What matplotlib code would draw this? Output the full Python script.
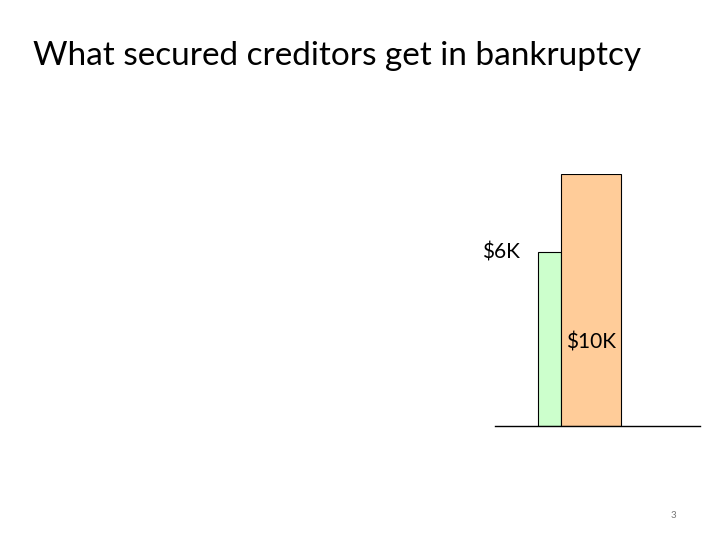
import matplotlib.pyplot as plt

title = "What secured creditors get in bankruptcy"
bar_labels = ["$6K", "$10K"]
# drawn heights as they appear on the slide (not strictly to scale)
bar_heights = [6.9, 10.0]
bar_colors = ["#ccffcc", "#ffcc99"]

fig = plt.figure(figsize=(7.2, 5.4), dpi=100)
fig.patch.set_facecolor("white")

ax = fig.add_axes([495 / 720, 1 - 426 / 540, 205 / 720, 252 / 540])
ax.set_xlim(0, 205)
ax.set_ylim(0, 10)
ax.axis("off")

lefts = [43, 66]
widths = [23, 60]
ax.bar(lefts, bar_heights, widths, align="edge", color=bar_colors,
       edgecolor="black", linewidth=0.8)
ax.plot([0, 205], [0, 0], color="black", lw=1, clip_on=False)

font = "Lato"
ax.text(lefts[0] - 18, bar_heights[0], bar_labels[0], ha="right", va="center",
        fontsize=15, family=font, clip_on=False)
ax.text(lefts[1] + widths[1] / 2, bar_heights[1] * 0.33, bar_labels[1],
        ha="center", va="center", fontsize=15, family=font)

fig.text(33 / 720, 1 - 56 / 540, title, ha="left", va="center",
         fontsize=24, family=font)
fig.text(673 / 720, 1 - 515 / 540, "3", ha="center", va="center",
         fontsize=7, color="#777777", family=font)

plt.savefig("out.png", dpi=100)
